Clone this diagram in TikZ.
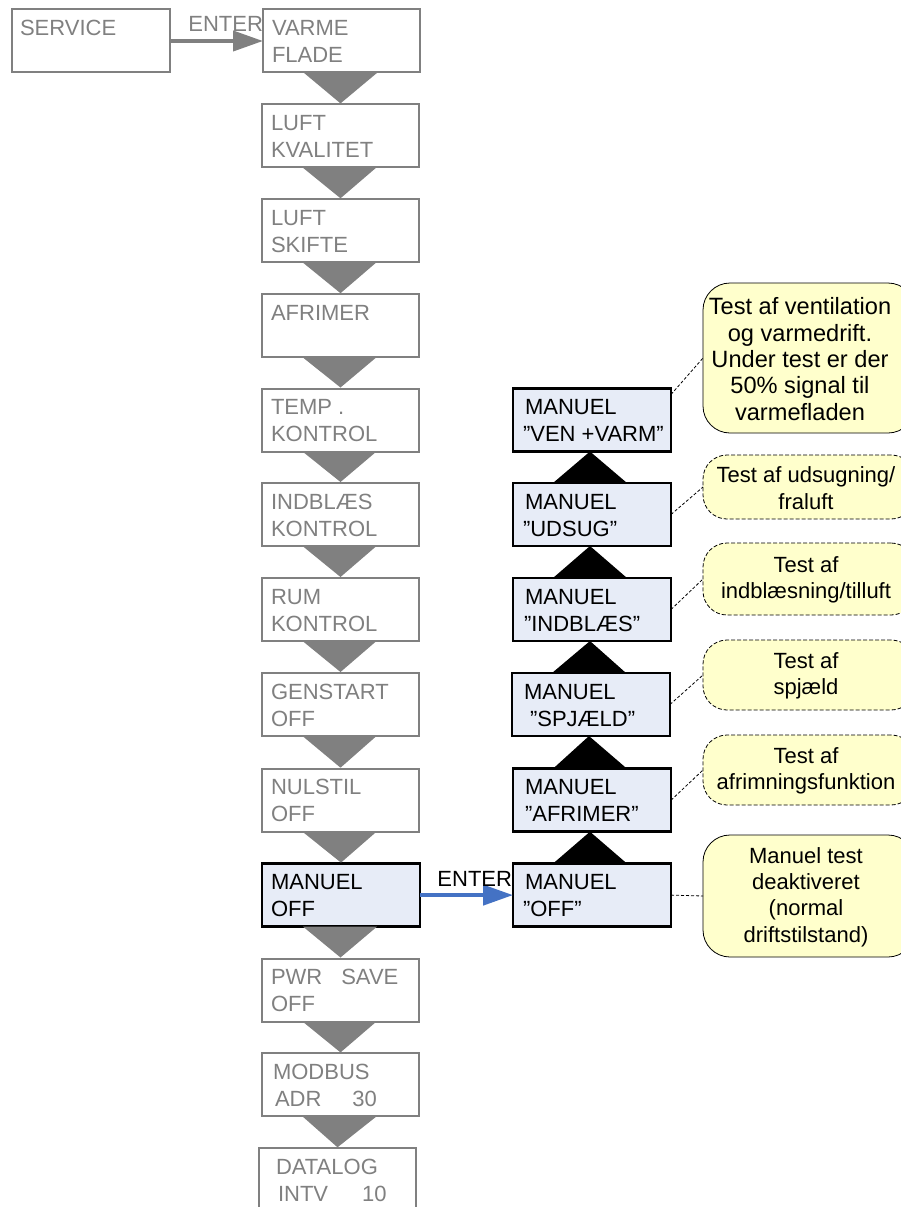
\documentclass[tikz,border=0pt]{standalone}
\usepackage{fontspec}
\setmainfont{Liberation Sans}
\usetikzlibrary{arrows.meta,calc}

\definecolor{dimgray}{RGB}{128,128,128}
\definecolor{panelblue}{RGB}{231,236,247}
\definecolor{noteyellow}{RGB}{255,255,204}
\definecolor{arrowblue}{RGB}{68,114,196}

\tikzset{
  every node/.style={font=\fontsize{22}{26.4}\selectfont, inner sep=0pt, outer sep=0pt},
  idlebox/.style={draw=dimgray, line width=2pt, fill=white, anchor=north west,
                  minimum width=157pt, minimum height=63pt},
  activebox/.style={draw=black, line width=2.5pt, fill=panelblue, anchor=north west,
                    minimum width=158pt, minimum height=63pt},
  idletxt/.style={text=dimgray, anchor=base west},
  activetxt/.style={text=black, anchor=base west},
  stepdown/.style={fill=dimgray},
  stepup/.style={fill=black},
  note/.style={draw=black, line width=0.8pt, fill=noteyellow, rounded corners=27pt},
  notedash/.style={note, dash pattern=on 4pt off 2pt, rounded corners=24pt},
  notetxt/.style={align=center, text=black},
  leader/.style={draw=black, line width=0.8pt, dash pattern=on 3pt off 2pt},
  enterarrow/.style={line width=4pt, -{Triangle[length=30pt,width=20pt]}},
}

% menu panel: name, kind (idle/active), left, top, first line, second line
\newcommand\panel[6]{%
  \node[#2box] (#1) at (#3,#4) {};
  \node[#2txt] (#1-1) at ([shift={(9pt,-26pt)}]#1.north west) {#5};
  \node[#2txt] (#1-2) at ([shift={(9pt,-53pt)}]#1.north west) {#6};
}

\begin{document}
\begin{tikzpicture}[x=1pt,y=-1pt]
\useasboundingbox (0,0) rectangle (901,1207);
\clip (0,0) rectangle (901,1207);

% service entry
\node[idlebox, minimum width=158pt] (svc) at (12,9.5) {};
\node[idletxt] (svc-1) at ([shift={(8pt,-26pt)}]svc.north west) {SERVICE};

% main menu column
\panel{p1}{idle}{263}{9.5}{VARME}{FLADE}
\panel{p2}{idle}{262}{104.4}{LUFT}{KVALITET}
\panel{p3}{idle}{262}{199.3}{LUFT}{SKIFTE}
\node[idlebox] (p4) at (262,294.2) {};
\node[idletxt] (p4-1) at ([shift={(9pt,-26pt)}]p4.north west) {AFRIMER};
\panel{p5}{idle}{262}{388.5}{TEMP .}{KONTROL}
\panel{p6}{idle}{262}{483}{INDBLÆS}{KONTROL}
\panel{p7}{idle}{262}{578}{RUM}{KONTROL}
\panel{p8}{idle}{262}{673}{GENSTART}{OFF}
\panel{p9}{idle}{262}{768.7}{NULSTIL}{OFF}
\panel{p10}{active}{262}{863.6}{MANUEL}{OFF}
\panel{p11}{idle}{262}{958.5}{PWR\hspace{19pt}SAVE}{OFF}
\panel{p12}{idle}{262}{1053.4}{\hspace{2pt}MODBUS}{\hspace{4pt}ADR\hspace{31pt}30}
\panel{p13}{idle}{259}{1148.3}{\hspace{8pt}DATALOG}{\hspace{10pt}INTV\hspace{34pt}10}

% manual test submenu
\panel{m1}{active}{513}{863.6}{\hspace{3pt}MANUEL}{\hspace{1pt}”OFF”}
\panel{m2}{active}{513}{768.7}{\hspace{3pt}MANUEL}{\hspace{3pt}”AFRIMER”}
\panel{m3}{active}{512}{673}{\hspace{3pt}MANUEL}{\hspace{9pt}”SPJÆLD”}
\panel{m4}{active}{513}{578}{\hspace{3pt}MANUEL}{\hspace{2pt}”INDBLÆS”}
\panel{m5}{active}{513}{483}{\hspace{3pt}MANUEL}{\hspace{1pt}”UDSUG”}
\panel{m6}{active}{513}{388.5}{\hspace{3pt}MANUEL}{\hspace{1pt}”VEN +VARM”}

% downward steps between main menu entries
\foreach \a/\b in {p1/p2,p2/p3,p3/p4,p4/p5,p5/p6,p6/p7,p7/p8,p8/p9,p9/p10,p10/p11,p11/p12,p12/p13}
  \fill[stepdown] ($(\a.south)+(-38,0)$) -- ($(\a.south)+(36,0)$) -- ($(\b.north)+(0,-1)$) -- cycle;

% upward steps between submenu entries
\foreach \a/\b in {m1/m2,m2/m3,m3/m4,m4/m5,m5/m6}
  \fill[stepup] ($(\a.north)+(-39,0)$) -- ($(\a.north)+(35,0)$) -- ($(\b.south)+(-2,0)$) -- cycle;

% ENTER transitions
\draw[dimgray, enterarrow] (svc.east) -- (p1.west);
\node[text=dimgray, anchor=base east] (enter1) at ([shift={(0pt,-22.5pt)}]p1.north west) {ENTER};
\draw[arrowblue, enterarrow] (p10.east) -- (m1.west);
\node[text=black, anchor=base east] (enter2) at ([shift={(-1pt,-23pt)}]m1.north west) {ENTER};

% explanatory notes
\node[note, minimum width=212pt, minimum height=150pt] (c1) at (809,358) {};
\node[notetxt, font=\fontsize{23.6}{26.3}\selectfont] (c1-t) at (800,359)
  {Test af ventilation\\og varmedrift.\\Under test er der\\50\% signal til\\varmefladen};
\node[notedash, minimum width=212pt, minimum height=64pt] (c2) at (809,487) {};
\node[notetxt] (c2-t) at (806,488) {Test af udsugning/\\fraluft};
\node[notedash, minimum width=212pt, minimum height=72pt] (c3) at (809,579) {};
\node[notetxt] (c3-t) at (806,580) {Test af\\indblæsning/tilluft};
\node[notedash, minimum width=212pt, minimum height=70pt] (c4) at (809,675) {};
\node[notetxt] (c4-t) at (806,676) {Test af\\spjæld};
\node[notedash, minimum width=212pt, minimum height=70pt] (c5) at (809,770) {};
\node[notetxt] (c5-t) at (806,771) {Test af\\afrimningsfunktion};
\node[note, minimum width=212pt, minimum height=122pt] (c6) at (809,896) {};
\node[notetxt] (c6-t) at (806,897) {Manuel test\\deaktiveret\\(normal\\driftstilstand)};

% leaders from submenu entries to notes
\draw[leader] ([yshift=-6pt]m6.north east) -- (c1.west);
\draw[leader] (m5.east) -- (c2.west);
\draw[leader] (m4.east) -- (c3.west);
\draw[leader] (m3.east) -- (c4.west);
\draw[leader] (m2.east) -- (c5.west);
\draw[leader] (m1.east) -- (c6.west);
\end{tikzpicture}
\end{document}
